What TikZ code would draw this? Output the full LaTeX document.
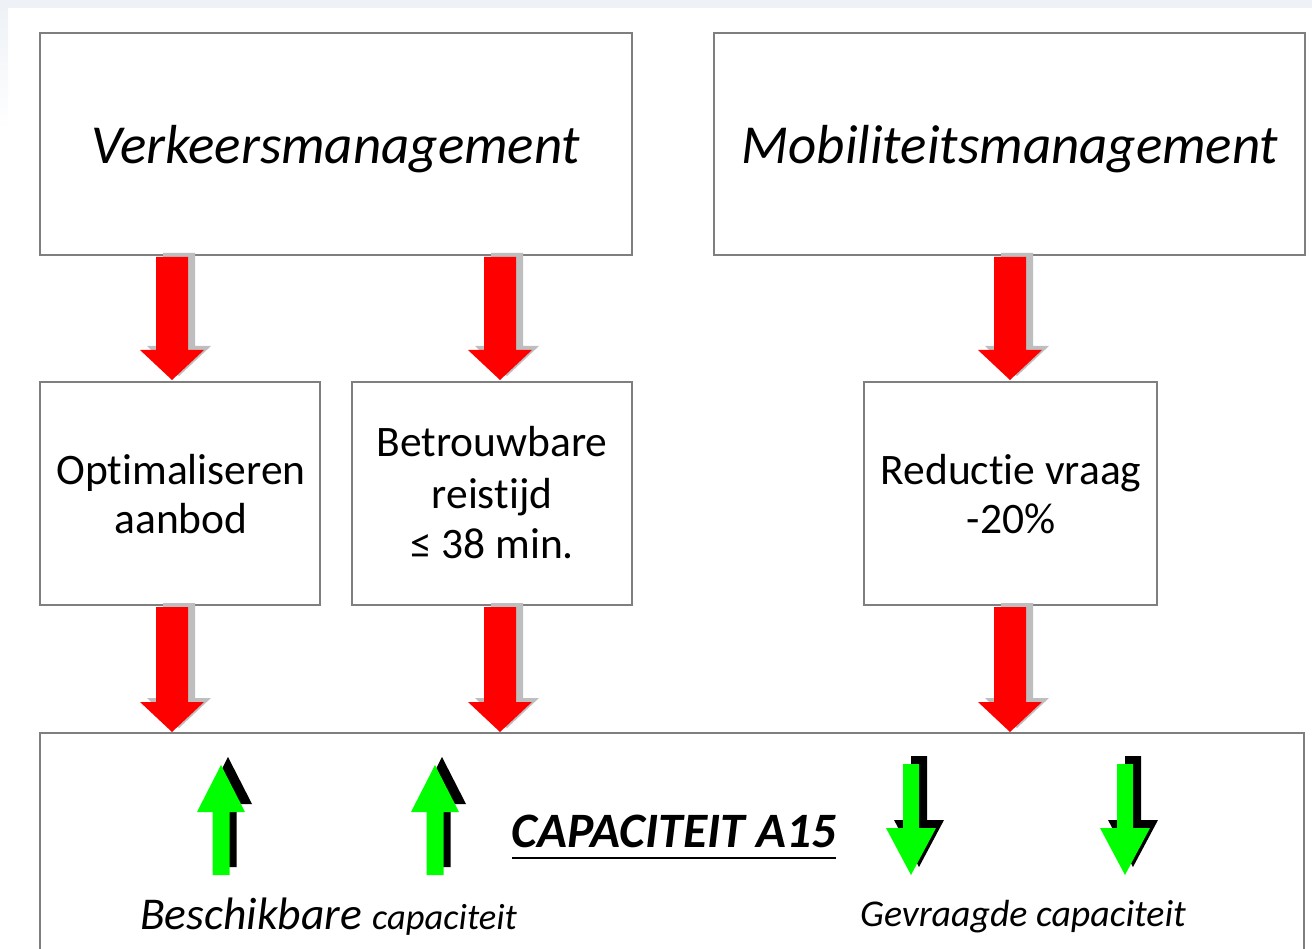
\documentclass[tikz,border=0pt]{standalone}
\usepackage{fontspec}
\setmainfont{Carlito}[Ligatures=NoCommon]
\definecolor{boxgray}{HTML}{7F7F7F}
\definecolor{arrowred}{HTML}{FF0000}
\definecolor{arrowgreen}{HTML}{00FF00}
\definecolor{shadowgray}{HTML}{BEBEBE}
\definecolor{bandblue}{HTML}{EEF2F6}
\tikzset{
  box/.style={draw=boxgray, line width=2.5pt, fill=white, inner sep=0pt},
  bigtitle/.style={font=\fontsize{55}{60}\selectfont\itshape, inner sep=0pt, anchor=base},
  smalltext/.style={font=\fontsize{43.5}{50}\selectfont, inner sep=0pt, anchor=base},
}
% red arrow: x centre, top y, tip y
\newcommand\redarr[3]{%
  \fill[shadowgray] (#1-9,#2-4) -- (#1+23,#2-4) -- (#1+23,#3-34) -- (#1+39,#3-34) -- (#1+7,#3-4) -- (#1-25,#3-34) -- (#1-9,#3-34) -- cycle;
  \fill[arrowred] (#1-16,#2) -- (#1+16,#2) -- (#1+16,#3-30) -- (#1+32,#3-30) -- (#1,#3) -- (#1-32,#3-30) -- (#1-16,#3-30) -- cycle;
}
% green up arrow with black shadow: x centre
\newcommand\greenup[1]{%
  \fill[black] (#1-1.5,867) -- (#1-1.5,804) -- (#1-17,804) -- (#1+7,757) -- (#1+31,804) -- (#1+15.5,804) -- (#1+15.5,867) -- cycle;
  \fill[arrowgreen] (#1-8.5,875) -- (#1-8.5,812) -- (#1-24,812) -- (#1,765) -- (#1+24,812) -- (#1+8.5,812) -- (#1+8.5,875) -- cycle;
}
% green down arrow with black shadow: x centre
\newcommand\greendown[1]{%
  \fill[black] (#1,756) -- (#1+16,756) -- (#1+16,820) -- (#1+33,820) -- (#1+8,867) -- (#1-17,820) -- (#1,820) -- cycle;
  \fill[arrowgreen] (#1-8,764) -- (#1+8,764) -- (#1+8,828) -- (#1+25,828) -- (#1,875) -- (#1-25,828) -- (#1-8,828) -- cycle;
}
\begin{document}
\begin{tikzpicture}[x=1pt,y=-1pt]
\useasboundingbox (0,0) rectangle (1312,949);
\clip (0,0) rectangle (1312,949);
% background bands
\fill[bandblue] (0,0) rectangle (1312,8);
\shade[top color=bandblue, bottom color=white] (0,8) rectangle (8,130);

% boxes
\node[box, minimum width=592pt, minimum height=222pt] (vm) at (336,144) {};
\node[box, minimum width=591pt, minimum height=222pt] (mm) at (1009.5,144) {};
\node[box, minimum width=280pt, minimum height=223pt] (opt) at (180,493.5) {};
\node[box, minimum width=280pt, minimum height=223pt] (bet) at (492,493.5) {};
\node[box, minimum width=293pt, minimum height=223pt] (red) at (1010.5,493.5) {};
\draw[box] (40,733) coordinate (capnw) rectangle (1304,980) coordinate (capse);

% texts
\node[bigtitle] (vmtext) at (336,164) {Verkeersmanagement};
\node[bigtitle] (mmtext) at (1010,164) {Mobiliteitsmanagement};
\node[smalltext] (opt1) at (181,484) {Optimaliseren};
\node[smalltext] (opt2) at (181,533) {aanbod};
\node[smalltext] (bet1) at (492,456) {Betrouwbare};
\node[smalltext] (bet2) at (492,508) {reistijd};
\node[smalltext] (bet3) at (492,558) {≤ 38 min.};
\node[smalltext] (red1) at (1011,484) {Reductie vraag};
\node[smalltext] (red2) at (1011,533) {-20\%};

% red arrows
\redarr{172}{257}{380}
\redarr{500}{257}{380}
\redarr{1010}{257}{380}
\redarr{172}{607}{732}
\redarr{500}{607}{732}
\redarr{1010}{607}{732}

% green arrows
\greenup{221}
\greenup{435}
\greendown{911}
\greendown{1125}

% capacity texts
\node[font=\fontsize{49.5}{52}\selectfont\bfseries\itshape, inner sep=0pt, anchor=base] (cap) at (674,847) {CAPACITEIT A15};
\draw[line width=2.5pt] (512,858) -- (836,858);
\node[inner sep=0pt, anchor=base west, font=\itshape] (besch) at (140,929) {\fontsize{45.5}{48}\selectfont Beschikbare \fontsize{36.5}{40}\selectfont capaciteit};
\node[inner sep=0pt, anchor=base west, font=\fontsize{37.8}{40}\selectfont\itshape] (gevr) at (860,926) {Gevraagde capaciteit};
\end{tikzpicture}
\end{document}
